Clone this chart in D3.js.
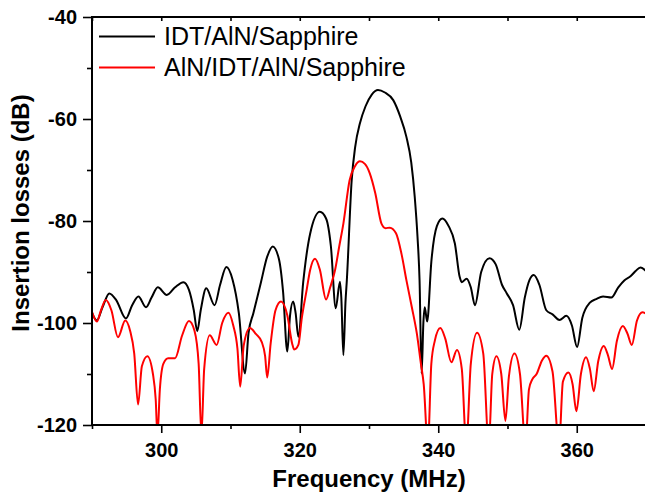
<!DOCTYPE html>
<html>
<head>
<meta charset="utf-8">
<script src="https://cdn.jsdelivr.net/npm/d3@7"></script>
<style>
  body { margin: 0; background: #fff; }
  svg { display: block; font-family: "Liberation Sans", Arial, sans-serif; }
</style>
</head>
<body>
<div id="chart"></div>
<script>
// IDT/AlN/Sapphire (black)
var idtFreq = [290.0, 290.7, 291.5, 292.5, 293.5, 294.9, 295.8, 296.7, 297.8, 298.6, 299.5, 300.8, 302.0, 303.2, 304.0, 304.7, 305.2, 305.7, 306.5, 307.7, 308.5, 309.4, 310.3, 311.2, 312.1, 312.6, 313.3, 314.4, 315.3, 316.1, 317.0, 317.6, 318.2, 318.6, 319.05, 319.4, 319.8, 320.5, 321.5, 322.9, 323.8, 324.5, 325.2, 325.8, 326.0, 326.3, 326.6, 326.8, 327.5, 328.0, 328.7, 329.5, 330.4, 331.3, 332.3, 333.5, 334.5, 335.4, 336.1, 336.6, 337.0, 337.3, 337.6, 337.85, 338.05, 338.4, 339.0, 339.8, 340.6, 341.5, 342.4, 343.1, 343.4, 344.1, 344.7, 345.3, 346.2, 347.4, 348.3, 349.2, 349.9, 350.8, 351.7, 352.5, 353.2, 353.8, 354.6, 355.6, 356.5, 357.5, 358.5, 359.3, 360.05, 360.8, 361.9, 362.8, 363.8, 365.0, 366.0, 366.9, 367.8, 368.5, 369.2, 370.0];
var idtLoss = [-98.0, -99.5, -97.0, -94.2, -95.5, -99.1, -96.5, -94.8, -96.9, -95.0, -93.0, -94.5, -93.0, -92.0, -93.5, -97.5, -101.6, -97.5, -93.2, -96.5, -92.5, -89.0, -91.5, -98.0, -109.9, -102.0, -98.1, -92.0, -87.0, -85.0, -87.5, -94.0, -105.6, -98.5, -95.8, -98.0, -102.7, -92.0, -82.5, -78.2, -79.5, -85.0, -97.1, -91.9, -95.0, -106.3, -96.0, -91.6, -72.0, -65.5, -60.8, -57.5, -55.2, -54.3, -54.8, -56.3, -59.5, -63.5, -68.5, -75.2, -83.0, -91.6, -109.9, -100.0, -96.9, -99.7, -88.0, -81.0, -79.5, -81.0, -84.4, -91.0, -92.0, -91.3, -93.0, -96.5, -90.0, -87.3, -88.5, -92.5, -94.2, -96.5, -101.3, -95.0, -91.5, -90.6, -92.5, -97.5, -98.3, -99.4, -98.6, -100.5, -104.7, -99.0, -96.0, -95.3, -94.8, -95.0, -93.0, -91.6, -90.8, -89.8, -89.1, -89.8];

// AlN/IDT/AlN/Sapphire (red)
var alnFreq = [290.0, 290.7, 291.3, 292.0, 292.8, 293.75, 294.8, 295.5, 296.1, 296.65, 297.2, 298.0, 298.8, 299.2, 299.45, 299.8, 300.3, 301.0, 302.0, 303.0, 304.0, 304.8, 305.4, 305.8, 306.2, 307.0, 308.0, 308.8, 309.7, 310.4, 311.0, 311.4, 311.9, 312.8, 313.7, 314.5, 315.0, 315.3, 315.8, 316.5, 317.3, 318.2, 318.9, 319.2, 319.8, 320.3, 321.0, 321.5, 322.2, 322.9, 323.8, 324.4, 325.1, 325.7, 326.3, 327.2, 328.0, 328.7, 329.4, 330.1, 330.9, 331.8, 332.4, 333.0, 333.9, 334.7, 335.4, 336.2, 336.9, 337.5, 337.9, 338.5, 339.0, 339.5, 340.3, 341.0, 341.9, 342.7, 343.4, 344.05, 344.7, 345.6, 346.5, 347.3, 347.8, 348.4, 349.1, 349.7, 350.2, 351.0, 351.8, 352.6, 353.1, 353.6, 354.2, 355.0, 355.6, 356.5, 357.45, 358.0, 358.8, 359.4, 359.95, 360.6, 361.35, 361.9, 362.45, 363.1, 363.9, 364.5, 365.1, 365.8, 366.65, 367.3, 367.95, 368.7, 369.5, 370.0];
var alnLoss = [-97.8, -99.7, -97.5, -95.5, -97.5, -102.8, -99.5, -101.5, -106.0, -116.0, -108.5, -106.5, -110.0, -115.0, -122.0, -113.0, -108.0, -106.9, -106.9, -102.5, -99.6, -101.5, -108.0, -122.0, -109.0, -102.4, -104.3, -100.0, -98.0, -100.5, -105.0, -112.5, -104.5, -101.0, -102.2, -103.7, -106.5, -110.7, -104.0, -97.5, -95.8, -98.5, -104.0, -105.2, -104.3, -99.0, -93.5, -89.6, -87.4, -89.5, -95.4, -93.0, -89.6, -85.0, -80.5, -72.0, -69.2, -68.3, -68.8, -70.6, -74.5, -80.5, -81.4, -81.3, -82.4, -86.5, -91.6, -97.0, -102.0, -108.0, -112.0, -124.0, -108.0, -103.5, -101.0, -103.0, -107.7, -105.3, -109.0, -124.0, -108.0, -101.9, -106.0, -124.0, -110.0, -106.5, -110.0, -119.2, -110.5, -106.0, -110.0, -124.0, -113.0, -111.0, -110.0, -107.3, -106.4, -109.5, -124.0, -111.5, -109.7, -112.0, -117.3, -110.0, -106.7, -109.0, -113.4, -107.5, -104.5, -106.3, -109.0, -103.5, -100.6, -102.0, -104.3, -99.5, -97.9, -98.2];

var seriesNames = ["IDT/AlN/Sapphire", "AlN/IDT/AlN/Sapphire"];
var seriesColors = ["#000000", "#ff0000"];

var xMajor = [300, 320, 340, 360];
var xMinor = [290, 310, 330, 350, 370];
var yMajor = [-120, -100, -80, -60, -40];
var yMinor = [-110, -90, -70, -50];

var W = 645, H = 495;
var plotLeft = 92, plotRight = 646, plotTop = 17, plotBottom = 425;

var svg = d3.select("#chart").append("svg")
    .attr("width", W)
    .attr("height", H);

var x = d3.scaleLinear().domain([290, 370]).range([plotLeft, plotRight]);
var y = d3.scaleLinear().domain([-120, -40]).range([plotBottom, plotTop]);

svg.append("clipPath").attr("id", "plotclip")
  .append("rect")
    .attr("x", plotLeft).attr("y", plotTop)
    .attr("width", plotRight - plotLeft).attr("height", plotBottom - plotTop);

var line = d3.line()
    .x(function(d) { return x(d[0]); })
    .y(function(d) { return y(d[1]); })
    .curve(d3.curveMonotoneX);

var series = [d3.zip(idtFreq, idtLoss), d3.zip(alnFreq, alnLoss)];

svg.append("g").attr("clip-path", "url(#plotclip)")
  .selectAll("path")
  .data(series)
  .enter()
  .append("path")
    .attr("d", line)
    .attr("fill", "none")
    .attr("stroke", function(d, i) { return seriesColors[i]; })
    .attr("stroke-width", 2)
    .attr("stroke-linejoin", "round");

// axes
function plainNum(d) { return String(d); }  // keep the ascii hyphen

function styleAxis(g) {
  g.select(".domain").remove();
  g.selectAll(".tick line").attr("stroke", "#000").attr("stroke-width", 1.6);
  g.selectAll(".tick text")
    .attr("fill", "#000")
    .style("font-size", "20px")
    .style("font-weight", "bold")
    .style("font-family", "'Liberation Sans', Arial, sans-serif");
}

svg.append("g")
    .attr("transform", "translate(0," + plotBottom + ")")
    .call(d3.axisBottom(x).tickValues(xMajor).tickSize(8).tickPadding(10).tickFormat(plainNum))
    .call(styleAxis);
svg.append("g")
    .attr("transform", "translate(0," + plotBottom + ")")
    .call(d3.axisBottom(x).tickValues(xMinor).tickSize(4).tickFormat(""))
    .call(styleAxis);
// top axis, ticks pointing inside
svg.append("g")
    .attr("transform", "translate(0," + plotTop + ")")
    .call(d3.axisBottom(x).tickValues(xMajor.concat(xMinor)).tickSize(4).tickFormat(""))
    .call(styleAxis);

svg.append("g")
    .attr("transform", "translate(" + plotLeft + ",0)")
    .call(d3.axisLeft(y).tickValues(yMajor).tickSize(9).tickPadding(6).tickFormat(plainNum))
    .call(styleAxis);
svg.append("g")
    .attr("transform", "translate(" + plotLeft + ",0)")
    .call(d3.axisLeft(y).tickValues(yMinor).tickSize(5).tickFormat(""))
    .call(styleAxis);

// frame
svg.append("rect")
    .attr("x", plotLeft).attr("y", plotTop)
    .attr("width", plotRight - plotLeft).attr("height", plotBottom - plotTop)
    .attr("fill", "none")
    .attr("stroke", "#000")
    .attr("stroke-width", 2);

// axis titles
svg.append("text")
    .attr("x", (plotLeft + plotRight) / 2)
    .attr("y", 487)
    .attr("text-anchor", "middle")
    .style("font-size", "24px")
    .style("font-weight", "bold")
    .text("Frequency (MHz)");

svg.append("text")
    .attr("transform", "translate(29," + 213 + ") rotate(-90)")
    .attr("text-anchor", "middle")
    .style("font-size", "24px")
    .style("font-weight", "bold")
    .text("Insertion losses (dB)");

// legend
var legend = svg.append("g");
seriesNames.forEach(function(name, i) {
  var ly = 36.5 + i * 31;
  legend.append("line")
      .attr("x1", 99).attr("x2", 155)
      .attr("y1", ly).attr("y2", ly)
      .attr("stroke", seriesColors[i])
      .attr("stroke-width", 2);
  legend.append("text")
      .attr("x", 164)
      .attr("y", ly + 8)
      .style("font-size", "25px")
      .text(name);
});
</script>
</body>
</html>
